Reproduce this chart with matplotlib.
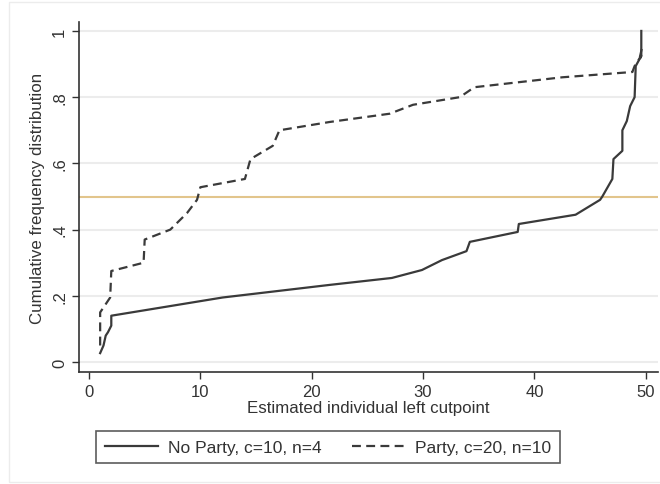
import matplotlib.pyplot as plt
from matplotlib.patches import Rectangle

# No Party, c=10, n=4  (cutpoint, cumulative share)
noparty_x = [1.0, 1.3, 1.5, 1.7, 2.0, 2.0, 12.0, 21.6, 27.2, 29.9, 31.7, 33.9, 34.2,
             38.5, 38.6, 43.7, 45.9, 46.1, 47.0, 47.1, 47.9, 47.9, 48.3, 48.6, 49.0,
             49.1, 49.6, 49.6]
noparty_y = [0.027, 0.05, 0.08, 0.09, 0.11, 0.14, 0.195, 0.233, 0.254, 0.278, 0.308, 0.335, 0.363,
             0.393, 0.417, 0.445, 0.49, 0.50, 0.553, 0.613, 0.638, 0.70, 0.728, 0.773, 0.80,
             0.894, 0.925, 1.0]

# Party, c=20, n=10
party_x = [1.0, 1.0, 1.9, 2.0, 4.9, 5.0, 7.3, 8.8, 9.7, 10.0, 14.0, 14.5, 16.5, 17.1,
           21.6, 27.0, 29.1, 33.3, 34.6, 42.5, 48.8, 49.0, 49.6, 49.4, 49.7]
party_y = [0.05, 0.15, 0.195, 0.275, 0.30, 0.37, 0.40, 0.45, 0.49, 0.528, 0.553, 0.613, 0.653, 0.70,
           0.725, 0.75, 0.777, 0.80, 0.83, 0.86, 0.876, 0.894, 0.925, 0.91, 0.955]

yticks = [0, 0.2, 0.4, 0.6, 0.8, 1.0]
ytick_labels = ['0', '.2', '.4', '.6', '.8', '1']
xticks = [0, 10, 20, 30, 40, 50]
median_line = 0.5

plt.rcParams['font.family'] = ['Liberation Sans', 'DejaVu Sans']

fig = plt.figure(figsize=(6.6, 4.85), dpi=100)
fig.patches.append(Rectangle((9 / 660, 0.005), 0.99, 0.988, transform=fig.transFigure,
                             fill=False, edgecolor='#ececec', linewidth=1))

ax = fig.add_axes([79 / 660, 1 - 373 / 485, (658 - 79) / 660, (373 - 23) / 485])

for y in yticks:
    ax.axhline(y, color='#ececec', linewidth=1.5, zorder=0)
ax.axhline(median_line, color='#e2c58c', linewidth=1.5, zorder=1)

ax.plot(noparty_x, noparty_y, color='#3a3a3a', linewidth=1.6, label='No Party, c=10, n=4', zorder=3)
ax.plot(party_x, party_y, color='#3a3a3a', linewidth=1.6, dashes=(4, 2.4),
        label='Party, c=20, n=10', zorder=3)

ax.set_xlim(-0.9, 51.1)
ax.set_ylim(-0.03, 1.027)
ax.set_xticks(xticks)
ax.set_yticks(yticks)
ax.set_yticklabels(ytick_labels, rotation=90, va='center')
ax.tick_params(labelsize=12, colors='#333333', length=5, width=1)
ax.spines['top'].set_visible(False)
ax.spines['right'].set_visible(False)
for s in ('left', 'bottom'):
    ax.spines[s].set_color('#333333')
    ax.spines[s].set_linewidth(1.2)

ax.set_xlabel('Estimated individual left cutpoint', fontsize=12.2, color='#333333', labelpad=1)
ax.set_ylabel('Cumulative frequency distribution', fontsize=12.2, color='#333333', labelpad=5)

leg = fig.legend(loc='center', bbox_to_anchor=(328 / 660, 1 - 448 / 485), ncol=2,
                 fontsize=12.5, frameon=True, fancybox=False, handlelength=3.05,
                 columnspacing=1.7, borderpad=0.5, handletextpad=0.6)
leg.get_frame().set_edgecolor('#333333')
leg.get_frame().set_linewidth(1.2)
for t in leg.get_texts():
    t.set_color('#333333')

fig.savefig('out.png', dpi=100)
